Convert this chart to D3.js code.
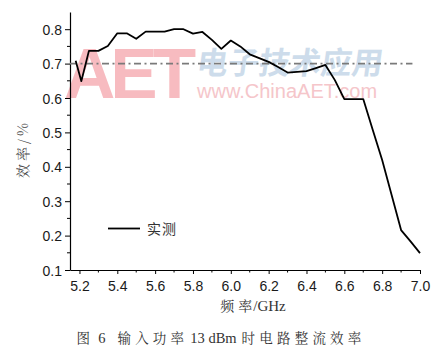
<!DOCTYPE html>
<html><head><meta charset="utf-8">
<script src="https://cdn.jsdelivr.net/npm/d3@7"></script>
<style>
html,body{margin:0;padding:0;background:#fff;}
svg{display:block;}
</style></head>
<body>
<svg id="chart" width="446" height="350"></svg>
<script>
// ---- data ----
const freqs = [5.18,5.21,5.25,5.30,5.35,5.40,5.45,5.50,5.55,5.60,5.65,5.70,5.75,5.80,5.85,5.90,5.95,6.00,6.05,6.10,6.15,6.20,6.25,6.30,6.35,6.40,6.45,6.50,6.55,6.60,6.65,6.70,6.75,6.80,6.85,6.90,6.95,7.00];
const efficiency = [0.708,0.649,0.737,0.737,0.751,0.788,0.788,0.772,0.793,0.793,0.793,0.800,0.800,0.787,0.792,0.769,0.743,0.767,0.750,0.727,0.716,0.705,0.690,0.674,0.676,0.678,0.687,0.696,0.652,0.597,0.597,0.597,0.508,0.420,0.318,0.216,0.183,0.149];
const refLevel = [0.7];
const refRange = [5.15, 6.96];
const xTicks = [5.2,5.4,5.6,5.8,6.0,6.2,6.4,6.6,6.8,7.0];
const yTicks = [0.1,0.2,0.3,0.4,0.5,0.6,0.7,0.8];
const legendLabel = "实测";
const xTitle = "频率/GHz";
const yTitle = "效率/%";
const captionParts = ["图", "6", "输入功率", "13 dBm", "时电路整流效率"];

const svg = d3.select("#chart");
const x = d3.scaleLinear().domain([5.15, 7.0]).range([70, 420]);
const y = d3.scaleLinear().domain([0.1, 0.85]).range([270, 12]);

// ---- watermark ----
const wm = svg.append("g").attr("class","watermark");
wm.append("text").attr("x",64).attr("y",98)
  .attr("font-family","Liberation Sans, Arial, sans-serif").attr("font-weight","bold")
  .attr("font-size",71).attr("letter-spacing",-5).attr("fill","#f6b0b6").attr("opacity",0.85)
  .text("AET");
wm.append("text").attr("x",196).attr("y",74)
  .attr("font-family","Noto Sans CJK SC, sans-serif").attr("font-weight","bold")
  .attr("font-size",31).attr("fill","#c5d7e8").attr("opacity",0.85)
  .attr("transform","skewX(-8) translate(10,0)")
  .text("电子技术应用");
wm.append("text").attr("x",197).attr("y",98)
  .attr("font-family","Liberation Sans, Arial, sans-serif")
  .attr("font-size",20).attr("fill","#f5c0c5").attr("opacity",0.9)
  .text("www.ChinaAET.com");

// ---- axes ----
const tickFont = "Liberation Sans, Arial, sans-serif";
const xAxis = d3.axisBottom(x).tickValues(xTicks).tickFormat(d3.format(".1f")).tickSize(4).tickSizeOuter(0);
const gx = svg.append("g").attr("transform","translate(0,270)").call(xAxis);
const xMinor = d3.range(5.3, 7.0, 0.2);
gx.selectAll(".minor").data(xMinor).enter().append("line").attr("class","minor")
  .attr("x1",d=>x(d)).attr("x2",d=>x(d)).attr("y1",0).attr("y2",2.5).attr("stroke","#000");

const yAxis = d3.axisLeft(y).tickValues(yTicks).tickFormat(d3.format(".1f")).tickSize(5).tickSizeOuter(0);
const gy = svg.append("g").attr("transform","translate(70,0)").call(yAxis);
const yMinor = d3.range(0.15, 0.85, 0.1);
gy.selectAll(".minor").data(yMinor).enter().append("line").attr("class","minor")
  .attr("x1",0).attr("x2",-3).attr("y1",d=>y(d)).attr("y2",d=>y(d)).attr("stroke","#000");

[gx, gy].forEach(g=>{
  g.select(".domain").attr("stroke","#000").attr("stroke-width",1.2);
  g.selectAll(".tick line").attr("stroke","#000");
  g.selectAll("text").attr("font-family",tickFont).attr("font-size",14).attr("fill","#1a1a1a");
});
gx.selectAll(".tick text").attr("dy","1.0em");
gy.selectAll(".tick text").attr("x",-8).attr("dy","0.36em");

// ---- reference line ----
svg.append("line")
  .attr("x1",x(refRange[0])).attr("x2",x(refRange[1]))
  .attr("y1",y(refLevel[0])).attr("y2",y(refLevel[0]))
  .attr("stroke","#7a7a7a").attr("stroke-width",1.6)
  .attr("stroke-dasharray","7,3.5,2,3.5");

// ---- data line ----
const line = d3.line().x((d,i)=>x(freqs[i])).y(d=>y(d));
svg.append("path").datum(efficiency)
  .attr("d",line).attr("fill","none").attr("stroke","#000").attr("stroke-width",1.8)
  .attr("stroke-linejoin","round");

// ---- legend ----
svg.append("line").attr("x1",108).attr("x2",140).attr("y1",228.5).attr("y2",228.5)
  .attr("stroke","#000").attr("stroke-width",1.8);
svg.append("text").attr("x",147).attr("y",233.5)
  .attr("font-family","Noto Sans CJK SC, sans-serif").attr("font-size",14).attr("fill","#333")
  .attr("letter-spacing",1)
  .text(legendLabel);

// ---- titles ----
const serif = "Noto Serif CJK SC, Noto Sans CJK SC, serif";
svg.append("text").attr("transform","translate(28,149) rotate(-90)")
  .attr("text-anchor","middle").attr("letter-spacing",3)
  .attr("font-family",serif).attr("font-size",14).attr("fill","#444")
  .text(yTitle);
const xt = svg.append("text").attr("x",253).attr("y",311).attr("text-anchor","middle")
  .attr("font-family",serif).attr("font-size",14).attr("fill","#333");
xt.append("tspan").text(xTitle.slice(0,1));
xt.append("tspan").attr("dx",4).text(xTitle.slice(1,2));
xt.append("tspan").attr("dx",1).attr("font-family","Liberation Serif, serif").attr("font-size",15).text(xTitle.slice(2));

const cap = svg.append("text").attr("x",221).attr("y",343).attr("text-anchor","middle")
  .attr("font-family",serif).attr("font-size",13.5).attr("fill","#333");
const capGaps = [0, 4, 12, 2, 5];
captionParts.forEach((t, i)=>{
  const cjk = i % 2 === 0;
  const ts = cap.append("tspan").attr("dx", capGaps[i]).text(t);
  if (cjk) ts.attr("letter-spacing",4.2);
  else ts.attr("font-family","Liberation Serif, serif").attr("font-size",14.5);
});
</script>
</body></html>
